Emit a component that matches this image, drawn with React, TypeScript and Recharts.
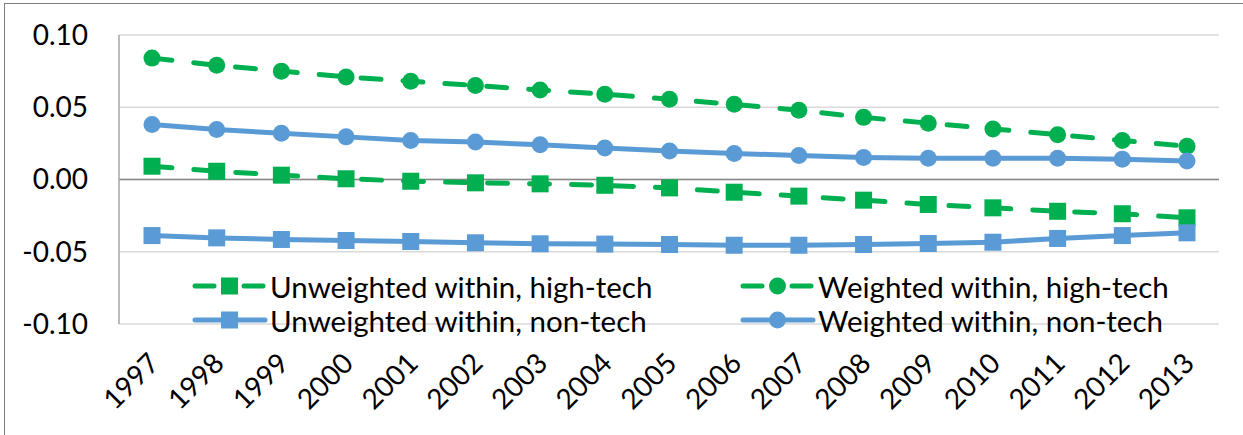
import React from 'react';
import { LineChart, Line, XAxis, YAxis, CartesianGrid, ReferenceLine } from 'recharts';

const years = ['1997', '1998', '1999', '2000', '2001', '2002', '2003', '2004', '2005', '2006', '2007', '2008', '2009', '2010', '2011', '2012', '2013'];

const unweightedHighTech = [0.0092, 0.0057, 0.003, 0.0005, -0.0012, -0.0023, -0.003, -0.004, -0.0058, -0.0088, -0.0115, -0.0143, -0.0173, -0.0196, -0.022, -0.0237, -0.0265];
const weightedHighTech = [0.084, 0.079, 0.075, 0.071, 0.068, 0.065, 0.062, 0.059, 0.0556, 0.052, 0.048, 0.043, 0.039, 0.035, 0.031, 0.027, 0.023];
const unweightedNonTech = [-0.0388, -0.0404, -0.0415, -0.0422, -0.0429, -0.0438, -0.0445, -0.0447, -0.045, -0.0455, -0.0455, -0.045, -0.0443, -0.0434, -0.0408, -0.0388, -0.0369];
const weightedNonTech = [0.038, 0.0346, 0.032, 0.0295, 0.027, 0.026, 0.024, 0.0218, 0.0198, 0.018, 0.0166, 0.0152, 0.0147, 0.0147, 0.0147, 0.0141, 0.0128];

const yTicks = [-0.1, -0.05, 0, 0.05, 0.1];

const legendNames = [
  'Unweighted within, high-tech',
  'Weighted within, high-tech',
  'Unweighted within, non-tech',
  'Weighted within, non-tech',
];

const GREEN = '#00B050';
const BLUE = '#5B9BD5';
const FONT = 'Lato, "Open Sans", sans-serif';

const data = years.map((year, i) => ({
  year,
  uwHigh: unweightedHighTech[i],
  wHigh: weightedHighTech[i],
  uwNon: unweightedNonTech[i],
  wNon: weightedNonTech[i],
}));

const squareDot = (color: string) => (props: any) => {
  const { cx, cy, index } = props;
  if (cx == null || cy == null) return <g key={index} />;
  return <rect key={index} x={cx - 8.5} y={cy - 8.5} width={17} height={17} fill={color} />;
};

const XTick = ({ x, y, payload }: any) => {
  const ax = x + 9;
  const ay = y + 41;
  return (
    <text x={ax} y={ay} transform={`rotate(-45, ${ax}, ${ay})`} textAnchor="end" fontSize={28} fontFamily={FONT} fill="#000">
      {payload.value}
    </text>
  );
};

function LegendSample({ color, dashed, square }: { color: string; dashed: boolean; square: boolean }) {
  return (
    <svg width={76} height={24} style={{ display: 'block' }}>
      {dashed ? (
        <>
          <line x1={3} y1={12} x2={22} y2={12} stroke={color} strokeWidth={5} strokeLinecap="round" />
          <line x1={52} y1={12} x2={71} y2={12} stroke={color} strokeWidth={5} strokeLinecap="round" />
        </>
      ) : (
        <line x1={3} y1={12} x2={73} y2={12} stroke={color} strokeWidth={5} strokeLinecap="round" />
      )}
      {square ? <rect x={29} y={3.5} width={17} height={17} fill={color} /> : <circle cx={37.5} cy={12} r={8.5} fill={color} />}
    </svg>
  );
}

const legendItems = [
  { name: legendNames[0], color: GREEN, dashed: true, square: true, left: 192, top: 286 },
  { name: legendNames[1], color: GREEN, dashed: true, square: false, left: 740, top: 286 },
  { name: legendNames[2], color: BLUE, dashed: false, square: true, left: 192, top: 320 },
  { name: legendNames[3], color: BLUE, dashed: false, square: false, left: 740, top: 320 },
];

export default function App() {
  return (
    <div style={{ position: 'fixed', left: 0, top: 0, width: 1243, height: 435, background: '#fff', overflow: 'hidden' }}>
      <div style={{ position: 'absolute', left: 4, top: 3, width: 1300, height: 500, border: '1.5px solid #7F7F7F' }} />
      <LineChart width={1243} height={435} data={data} margin={{ top: 35, right: 24, bottom: 0, left: 0 }}>
        <CartesianGrid vertical={false} stroke="#D9D9D9" strokeWidth={1.5} />
        <XAxis
          dataKey="year"
          height={111}
          padding={{ left: 33, right: 32 }}
          axisLine={false}
          tickLine={false}
          tickSize={0}
          tickMargin={0}
          interval={0}
          tick={<XTick />}
        />
        <YAxis
          width={119}
          domain={[-0.1, 0.1]}
          ticks={yTicks}
          tickFormatter={(v: number) => v.toFixed(2)}
          axisLine={{ stroke: '#A6A6A6', strokeWidth: 1.5 }}
          tickLine={false}
          tickSize={0}
          tickMargin={31}
          tick={{ fill: '#000', fontSize: 28, fontFamily: FONT }}
        />
        <ReferenceLine y={0} stroke="#868686" strokeWidth={1.5} />
        <Line dataKey="uwHigh" stroke={GREEN} strokeWidth={5} strokeDasharray="20 22" strokeLinecap="round" dot={squareDot(GREEN)} isAnimationActive={false} />
        <Line dataKey="wHigh" stroke={GREEN} strokeWidth={5} strokeDasharray="20 22" strokeLinecap="round" dot={{ r: 8.5, fill: GREEN, stroke: 'none' }} isAnimationActive={false} />
        <Line dataKey="uwNon" stroke={BLUE} strokeWidth={5} dot={squareDot(BLUE)} isAnimationActive={false} />
        <Line dataKey="wNon" stroke={BLUE} strokeWidth={5} dot={{ r: 8.5, fill: BLUE, stroke: 'none' }} isAnimationActive={false} />
      </LineChart>
      {legendItems.map((it) => (
        <div key={it.name} style={{ position: 'absolute', left: it.left, top: it.top - 17, height: 34, display: 'flex', alignItems: 'center', fontFamily: FONT, fontSize: 29.5, color: '#000', whiteSpace: 'nowrap' }}>
          <LegendSample color={it.color} dashed={it.dashed} square={it.square} />
          <span style={{ marginLeft: 2 }}>{it.name}</span>
        </div>
      ))}
    </div>
  );
}
